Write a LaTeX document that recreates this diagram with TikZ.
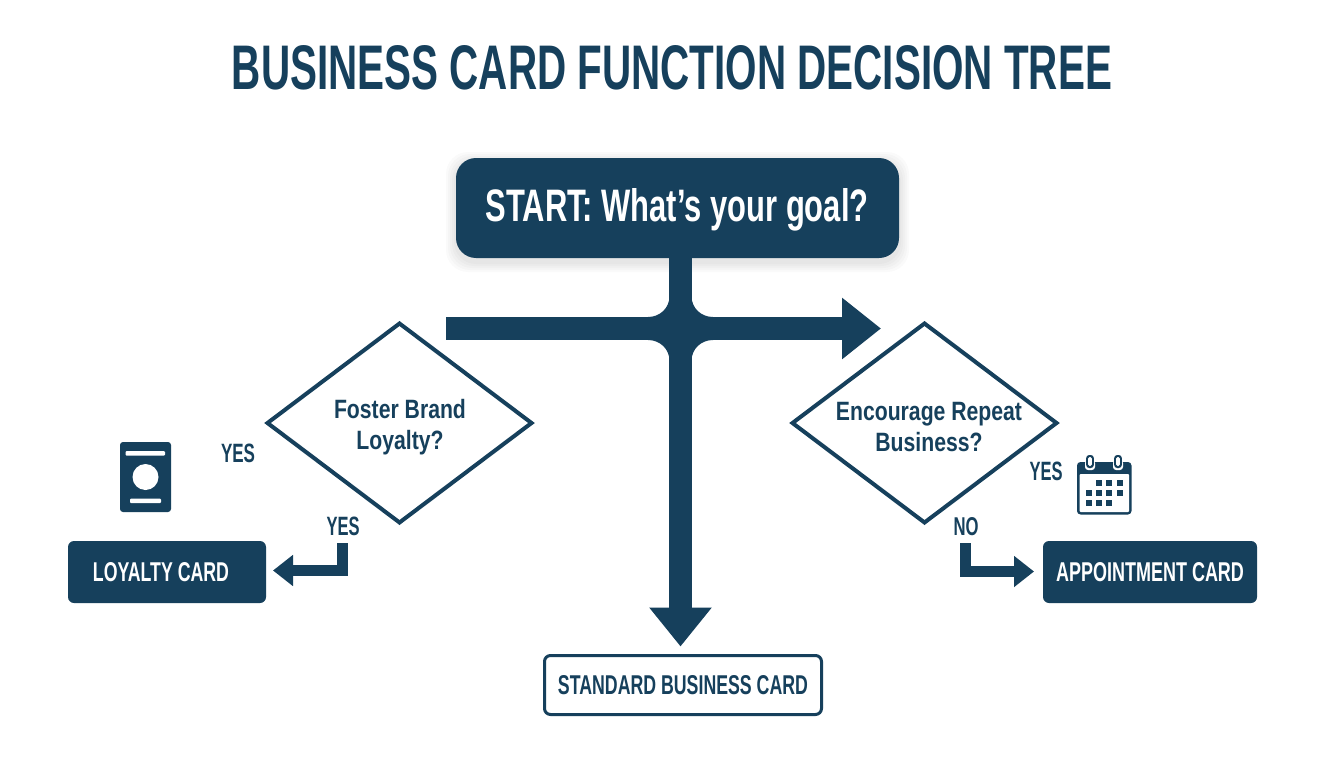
\documentclass[tikz,border=0pt]{standalone}
\usepackage{fontspec}
\usepackage{graphicx}
\usetikzlibrary{arrows.meta,shapes.geometric,calc}
\setmainfont{Liberation Sans}
\newfontfamily\condfont[FakeStretch=0.8]{Liberation Sans}
\definecolor{navy}{HTML}{16405C}
\newcommand{\fitcaps}[3]{\resizebox{#1pt}{#2pt}{\bfseries #3}}
\tikzset{
  x=1pt,y=-1pt,
  txt/.style={inner sep=0pt,outer sep=0pt,text=navy,font=\bfseries},
  solidbox/.style={rectangle,rounded corners=6pt,fill=navy,inner sep=0pt,outer sep=0pt,text=white,font=\bfseries},
  outlinebox/.style={rectangle,rounded corners=6pt,draw=navy,line width=3pt,fill=white,inner sep=0pt,outer sep=0pt,text=navy},
  question/.style={diamond,draw=navy,line width=4pt,aspect=1.32,inner sep=0pt,outer sep=0pt,minimum width=264pt,minimum height=199pt,line join=miter},
  qtext/.style={inner sep=0pt,outer sep=0pt,text=navy,align=center,font=\condfont\bfseries\fontsize{26.5}{31}\selectfont},
  bigline/.style={draw=navy,line width=23pt},
  elbow/.style={draw=navy,line width=11pt,-{Triangle[length=20pt,width=30pt]}},
  fillet/.style={fill=navy,draw=none},
  iconwhite/.style={fill=white,draw=none},
}
\begin{document}
\begin{tikzpicture}
\useasboundingbox (0,0) rectangle (1344,768);
\fill[white] (0,0) rectangle (1344,768);

% title
\node[txt] (title) at (672,68) {\fitcaps{880}{44}{BUSINESS CARD FUNCTION DECISION TREE}};

% start shadow
\foreach \g in {10,8,6,4,2}{
  \fill[black,opacity=0.018,rounded corners=22pt] (456-\g,162-\g) rectangle (899+\g,262+\g);
}
% start node
\node[solidbox,rounded corners=20pt,minimum width=443pt,minimum height=100pt] (start) at (677.5,208) {};
\node[inner sep=0pt,outer sep=0pt,text=white] (starttext) at (677,210)
  {\resizebox{383pt}{33pt}{\bfseries START: What’s your goal?}};

% decision nodes
\node[question] (loyaltyq) at (399.5,423) {};
\node[question] (repeatq) at (924.5,423) {};
\node[qtext] (loyaltytext) at (400,427) {Foster Brand\\Loyalty?};
\node[qtext] (repeattext) at (929,427) {Encourage Repeat\\Business?};

% result nodes
\node[solidbox,minimum width=198pt,minimum height=62pt] (loyalty) at (167,572) {\fitcaps{136}{19}{LOYALTY CARD}\rule{12pt}{0pt}};
\node[solidbox,minimum width=214pt,minimum height=62pt] (appoint) at (1150,572) {\fitcaps{188}{19}{APPOINTMENT CARD}};
\node[outlinebox,minimum width=277pt,minimum height=59pt] (standard) at (683,685) {\fitcaps{250}{19}{STANDARD BUSINESS CARD}};

% edge labels
\node[txt] (yesicon) at (238,453) {\fitcaps{34}{18.5}{YES}};
\node[txt] (yesl) at (343,526) {\fitcaps{33}{18.5}{YES}};
\node[txt] (yesr) at (1046,471) {\fitcaps{33}{18.5}{YES}};
\node[txt] (nor) at (966,527) {\fitcaps{25}{18}{NO}};

% main connectors
\coordinate (hleft) at (446,328.5);
\coordinate (hright) at (881,328.5);
\draw[bigline,-{Triangle[length=39pt,width=59pt]}] (hleft) -- (hright);
\draw[bigline,-{Triangle[length=39pt,width=60pt]}] ([xshift=3pt]start.south) -- ([xshift=-2.5pt,yshift=9pt]standard.north);
\fill[fillet] (669.5,296) .. controls (669.5,308) and (660,317) .. (648,317) -- (669.5,317) -- cycle;
\fill[fillet] (691.5,296) .. controls (691.5,308) and (701,317) .. (713,317) -- (691.5,317) -- cycle;
\fill[fillet] (669.5,361) .. controls (669.5,349) and (660,340) .. (648,340) -- (669.5,340) -- cycle;
\fill[fillet] (691.5,361) .. controls (691.5,349) and (701,340) .. (713,340) -- (691.5,340) -- cycle;

% elbow connectors
\coordinate (elbowl) at (342.5,543);
\coordinate (elbowr) at (965,543);
\draw[elbow] (elbowl) |- ([xshift=7pt,yshift=1.5pt]loyalty.east);
\draw[elbow] (elbowr) |- ([xshift=-9pt,yshift=0.5pt]appoint.west);

% loyalty card icon
\fill[navy,rounded corners=3pt] (120,442) rectangle (171,512);
\fill[iconwhite,rounded corners=1pt] (125.5,451) rectangle (165,455.5);
\fill[iconwhite] (145.5,477) circle[radius=13];
\fill[iconwhite,rounded corners=1pt] (130,498.5) rectangle (161,503);

% calendar icon
\fill[navy,rounded corners=3.5pt] (1077,462) rectangle (1131.5,514.5);
\fill[iconwhite,rounded corners=1pt] (1079.5,474) rectangle (1129,512);
\foreach \rx in {1090,1118}{
  \fill[white,rounded corners=3pt] (\rx-5,460) rectangle (\rx+5,470);
  \fill[navy,rounded corners=3pt] (\rx-3.8,455) rectangle (\rx+3.8,468);
  \fill[white,rounded corners=1.5pt] (\rx-1.8,457) rectangle (\rx+1.8,466);
}
\foreach \cx/\cy in {1098.5/483,1109/483,1120/483,
                     1088.5/493,1098.5/493,1109/493,1120/493,
                     1088.5/502.5,1098.5/502.5,1109/502.5}{
  \fill[navy] (\cx-3,\cy-3) rectangle (\cx+3,\cy+3);
}
\end{tikzpicture}
\end{document}
